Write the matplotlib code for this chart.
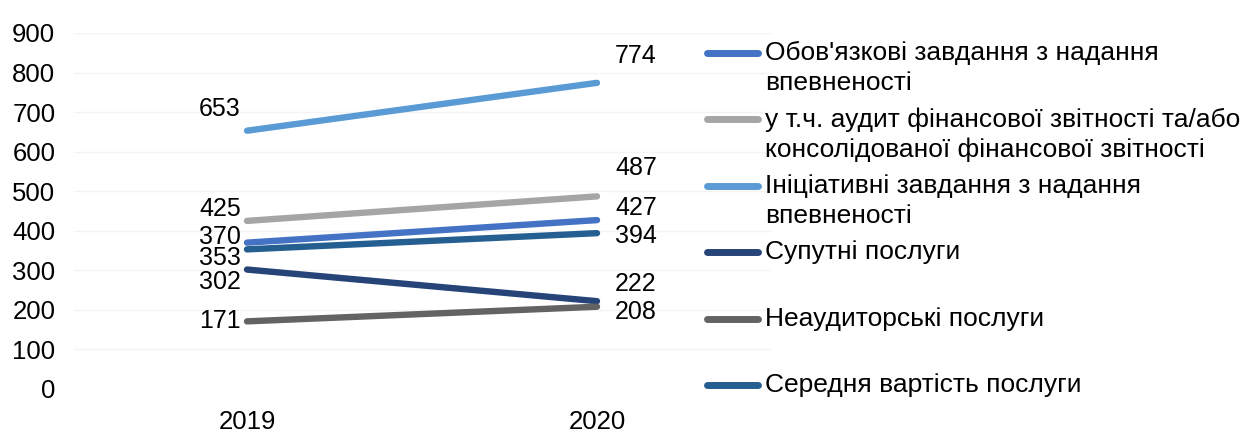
import matplotlib.pyplot as plt
from matplotlib.lines import Line2D

plt.rcParams['font.family'] = ['Liberation Sans', 'DejaVu Sans']

years = ['2019', '2020']
series_names = [
    "Обов'язкові завдання з надання\nвпевненості",
    "у т.ч. аудит фінансової звітності та/або\nконсолідованої фінансової звітності",
    "Ініціативні завдання з надання\nвпевненості",
    "Супутні послуги",
    "Неаудиторські послуги",
    "Середня вартість послуги",
]
values_2019 = [370, 425, 653, 302, 171, 353]
values_2020 = [427, 487, 774, 222, 208, 394]
colors = ['#4472C4', '#A5A5A5', '#5B9BD5', '#264478', '#636363', '#255E91']

# label offsets in pixels (dy) for each series: (2019, 2020)
label_dy = [(6, 12), (12, 28), (22, 27), (-12, 17), (0, -5), (-9, -3)]

W, H = 1252, 432
fig = plt.figure(figsize=(W / 100, H / 100), dpi=100)
ax = fig.add_axes([74 / W, 43 / H, 698 / W, 356 / H])

x = [0, 1]
for i, name in enumerate(series_names):
    ys = [values_2019[i], values_2020[i]]
    ax.plot(x, ys, color=colors[i], lw=4.6, solid_capstyle='round', zorder=3)
    ax.annotate(str(values_2019[i]), (0, ys[0]), xytext=(-6, label_dy[i][0]),
                textcoords='offset pixels', ha='right', va='center', fontsize=18)
    ax.annotate(str(values_2020[i]), (1, ys[1]), xytext=(18, label_dy[i][1]),
                textcoords='offset pixels', ha='left', va='center', fontsize=18)

ax.set_xlim(-173 / 350, 525 / 350)
ax.set_ylim(0, 900)
ax.set_yticks(range(0, 1000, 100))
ax.set_xticks(x)
ax.set_xticklabels(years)
ax.tick_params(axis='both', length=0, labelsize=18.5)
ax.tick_params(axis='y', pad=13.5)
ax.tick_params(axis='x', pad=15)
ax.grid(axis='y', color='#F4F4F4', lw=1)
for s in ax.spines.values():
    s.set_visible(False)

# legend drawn by hand so the key lines sit on the first text line
y0, step, line_h = 53, 66.4, 30
for i, name in enumerate(series_names):
    yy = y0 + i * step
    fig.add_artist(Line2D([707 / W, 758 / W], [1 - yy / H, 1 - yy / H], color=colors[i],
                          lw=5, solid_capstyle='round', transform=fig.transFigure))
    for j, part in enumerate(name.split('\n')):
        fig.text(765 / W, 1 - (yy + j * line_h) / H, part, ha='left', va='center',
                 fontsize=19)

fig.savefig('out.png', dpi=100)
